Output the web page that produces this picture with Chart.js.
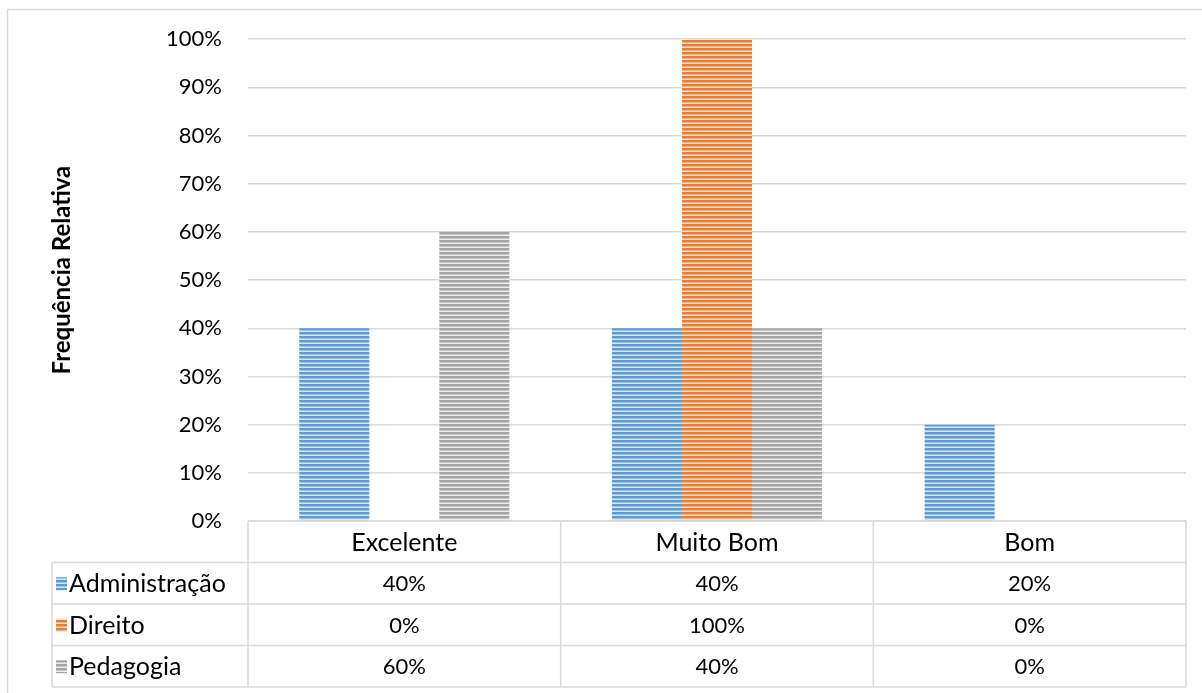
<!DOCTYPE html>
<html>
<head>
<meta charset="utf-8">
<script src="https://cdn.jsdelivr.net/npm/chart.js@4.4.1/dist/chart.umd.min.js"></script>
<style>
  html, body { margin: 0; padding: 0; background: #fff; }
  #wrap { width: 1202px; height: 693px; position: relative; }
</style>
</head>
<body>
<div id="wrap"><canvas id="c" width="1202" height="693"></canvas></div>
<script>
const categories = ['Excelente', 'Muito Bom', 'Bom'];
const seriesNames = ['Administração', 'Direito', 'Pedagogia'];
const administracao = [0.40, 0.40, 0.20];
const direito = [0.00, 1.00, 0.00];
const pedagogia = [0.60, 0.40, 0.00];
const yTicks = [0, 0.1, 0.2, 0.3, 0.4, 0.5, 0.6, 0.7, 0.8, 0.9, 1.0];
const yTitle = 'Frequência Relativa';

const FONT = 'Lato, "Open Sans", sans-serif';
const GRID = '#d9d9d9';

const canvas = document.getElementById('c');
const ctx = canvas.getContext('2d');

function stripes(dark, mid, light) {
  const c = document.createElement('canvas');
  c.width = 8; c.height = 4;
  const g = c.getContext('2d');
  g.fillStyle = dark; g.fillRect(0, 0, 8, 2);
  g.fillStyle = mid; g.fillRect(0, 2, 8, 1);
  g.fillStyle = light; g.fillRect(0, 3, 8, 1);
  return ctx.createPattern(c, 'repeat');
}
const patterns = [
  stripes('#5b9bd5', '#9dc3e6', '#d6e6f5'),
  stripes('#ed7d31', '#f4b183', '#fbe0cf'),
  stripes('#a5a5a5', '#c9c9c9', '#ececec')
];
const seriesData = [administracao, direito, pedagogia];

const pct = v => Math.round(v * 100) + '%';

const tablePlugin = {
  id: 'dataTable',
  beforeDraw(chart) {
    const g = chart.ctx;
    g.save();
    g.fillStyle = '#fff';
    g.fillRect(0, 0, chart.width, chart.height);
    g.strokeStyle = GRID;
    g.lineWidth = 1.5;
    g.strokeRect(7.5, 9.5, 3000, 3000);
    g.restore();
  },
  afterDraw(chart) {
    const g = chart.ctx;
    const ca = chart.chartArea;
    const xs = chart.scales.x;
    const top = ca.bottom;
    const rowH = 41.5;
    const legLeft = 52;
    const nRows = seriesNames.length;
    const bottom = top + rowH * (nRows + 1);
    const n = categories.length;
    const bounds = [ca.left];
    for (let i = 0; i < n - 1; i++) {
      bounds.push((xs.getPixelForValue(i) + xs.getPixelForValue(i + 1)) / 2);
    }
    bounds.push(ca.right);

    g.save();
    // y-axis title
    g.save();
    g.translate(62, (ca.top + ca.bottom) / 2 - 10);
    g.rotate(-Math.PI / 2);
    g.font = 'bold 24px ' + FONT;
    g.fillStyle = '#000';
    g.textAlign = 'center';
    g.textBaseline = 'middle';
    g.fillText(yTitle, 0, 0);
    g.restore();

    g.strokeStyle = GRID;
    g.lineWidth = 1.5;
    g.beginPath();
    g.moveTo(ca.left, top); g.lineTo(ca.right, top);
    for (let r = 1; r <= nRows + 1; r++) {
      const y = top + rowH * r;
      g.moveTo(legLeft, y); g.lineTo(ca.right, y);
    }
    bounds.forEach(x => { g.moveTo(x, top); g.lineTo(x, bottom); });
    g.moveTo(legLeft, top + rowH); g.lineTo(legLeft, bottom);
    g.stroke();

    const labelFont = '25px ' + FONT;
    const valueFont = '22px ' + FONT;
    g.fillStyle = '#000';
    g.textBaseline = 'middle';
    g.textAlign = 'center';
    g.font = labelFont;
    categories.forEach((c, i) => {
      g.fillText(c, xs.getPixelForValue(i), top + rowH / 2 + 1);
    });
    seriesNames.forEach((s, r) => {
      const yc = top + rowH * (r + 1.5) + 1;
      g.fillStyle = patterns[r];
      g.fillRect(56, yc - 7, 11, 13);
      g.fillStyle = '#000';
      g.textAlign = 'left';
      g.font = labelFont;
      g.fillText(s, 69, yc);
      g.textAlign = 'center';
      g.font = valueFont;
      seriesData[r].forEach((v, i) => {
        g.fillText(pct(v), xs.getPixelForValue(i), yc);
      });
    });
    g.restore();
  }
};

new Chart(ctx, {
  type: 'bar',
  data: {
    labels: categories,
    datasets: seriesNames.map((name, i) => ({
      label: name,
      data: seriesData[i],
      backgroundColor: patterns[i],
      borderWidth: 0,
      categoryPercentage: 0.672,
      barPercentage: 1.0
    }))
  },
  options: {
    responsive: false,
    animation: false,
    devicePixelRatio: 1,
    layout: { padding: { top: 38, right: 16, left: 0, bottom: 0 } },
    plugins: {
      legend: { display: false },
      tooltip: { enabled: false },
      title: { display: false }
    },
    scales: {
      x: {
        ticks: { display: false },
        grid: { display: false },
        border: { display: false },
        afterFit(scale) { scale.height = 172; }
      },
      y: {
        min: 0,
        max: 1,
        afterBuildTicks(scale) { scale.ticks = yTicks.map(v => ({ value: v })); },
        ticks: {
          padding: 26,
          color: '#000',
          font: { family: FONT, size: 22 },
          callback: v => pct(v)
        },
        grid: { color: GRID, lineWidth: 1.5, drawTicks: false },
        border: { display: false },
        title: { display: false },
        afterFit(scale) { scale.width = 248; }
      }
    }
  },
  plugins: [tablePlugin]
});
</script>
</body>
</html>
